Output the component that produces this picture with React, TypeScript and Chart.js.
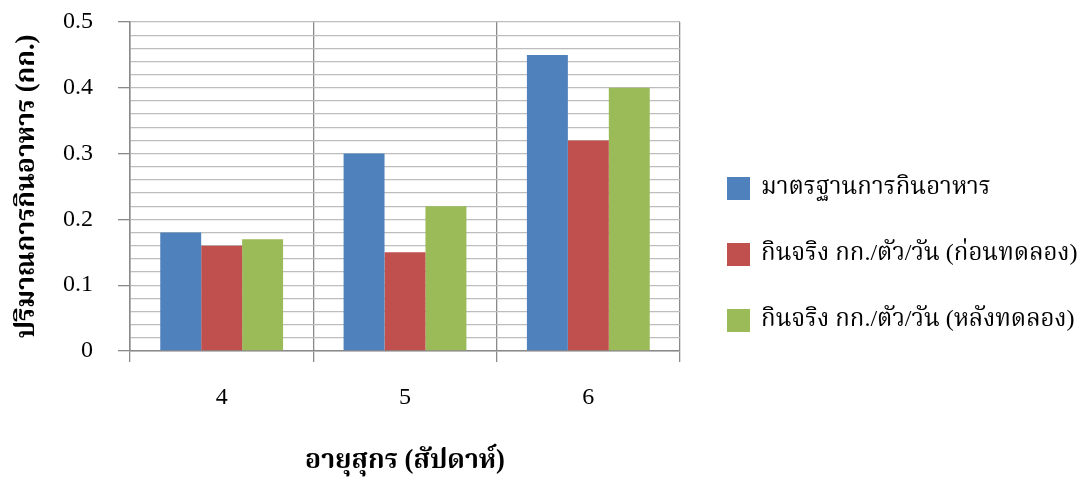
import React, { useEffect, useRef } from "react";
import { Chart, registerables } from "chart.js";

Chart.register(...registerables);

const categories = ["4", "5", "6"];
const seriesLabels = [
  "มาตรฐานการกินอาหาร",
  "กินจริง กก./ตัว/วัน (ก่อนทดลอง)",
  "กินจริง กก./ตัว/วัน (หลังทดลอง)",
];
const standardValues = [0.18, 0.3, 0.45];
const beforeValues = [0.16, 0.15, 0.32];
const afterValues = [0.17, 0.22, 0.4];
const seriesColors = ["#4F81BD", "#C0504D", "#9BBB59"];
const yTitle = "ปริมาณการกินอาหาร (กก.)";
const xTitle = "อายุสุกร (สัปดาห์)";

const FONT = "'Liberation Serif', 'Times New Roman', 'Noto Serif Thai', 'Noto Sans Thai', serif";

const legendPlugin = {
  id: "sideLegend",
  afterDraw(chart: any) {
    const ctx = chart.ctx;
    const area = chart.chartArea;
    const x0 = area.right + 47;
    const centers = [188, 254, 320];
    ctx.save();
    chart.data.datasets.forEach((ds: any, i: number) => {
      const cy = centers[i];
      ctx.fillStyle = ds.backgroundColor;
      ctx.fillRect(x0, cy - 11, 23, 23);
      ctx.fillStyle = "#000";
      ctx.font = `24px ${FONT}`;
      ctx.textAlign = "left";
      ctx.textBaseline = "middle";
      ctx.fillText(ds.label, x0 + 34, cy);
    });
    ctx.restore();
  },
};

export default function App() {
  const ref = useRef<HTMLCanvasElement | null>(null);
  useEffect(() => {
    if (!ref.current) return;
    const chart = new Chart(ref.current, {
      type: "bar",
      data: {
        labels: categories,
        datasets: [standardValues, beforeValues, afterValues].map((d, i) => ({
          label: seriesLabels[i],
          data: d,
          backgroundColor: seriesColors[i],
          borderWidth: 0,
          categoryPercentage: 0.67,
          barPercentage: 1,
        })),
      },
      options: {
        animation: false,
        responsive: true,
        maintainAspectRatio: false,
        layout: { padding: { top: 22, right: 409, left: 0, bottom: 0 } },
        plugins: { legend: { display: false }, tooltip: { enabled: false } },
        scales: {
          x: {
            grid: {
              offset: true,
              color: "#8a8a8a",
              lineWidth: 1.3,
              tickLength: 11,
              drawOnChartArea: true,
            },
            border: { color: "#8a8a8a", width: 1.5 },
            ticks: {
              color: "#000",
              font: { family: FONT, size: 24 },
              padding: 21,
            },
            title: {
              display: true,
              text: xTitle,
              color: "#000",
              font: { family: FONT, size: 26.5, weight: "bold" },
              padding: { top: 0, bottom: 4 },
            },
            afterFit(s: any) {
              s.height = 130;
              s.paddingLeft = 0;
              s.paddingRight = 0;
            },
          },
          y: {
            min: 0,
            max: 0.5,
            grid: {
              color: "#bdbdbd",
              lineWidth: 1.3,
              tickLength: 12,
              tickColor: (c: any) => {
                const v = Math.round((c.tick?.value ?? 0) * 100);
                return v % 10 === 0 ? "#8a8a8a" : "rgba(0,0,0,0)";
              },
            },
            border: { color: "#8a8a8a", width: 1.5 },
            ticks: {
              stepSize: 0.02,
              autoSkip: false,
              color: "#000",
              font: { family: FONT, size: 24 },
              padding: 25,
              callback: (v: any) => {
                const n = Math.round(Number(v) * 100);
                if (n % 10 !== 0) return "";
                return n === 0 ? "0" : (n / 100).toFixed(1);
              },
            },
            title: {
              display: true,
              text: yTitle,
              color: "#000",
              font: { family: FONT, size: 26.5, weight: "bold" },
              padding: { top: 11, bottom: 0 },
            },
            afterFit(s: any) {
              s.width = 130;
              s.paddingTop = 0;
              s.paddingBottom = 0;
            },
          },
        },
      },
      plugins: [legendPlugin],
    } as any);
    return () => chart.destroy();
  }, []);
  return (
    <div style={{ position: "absolute", left: 0, top: 0, width: 1089, height: 481, background: "#fff" }}>
      <canvas ref={ref} />
    </div>
  );
}
